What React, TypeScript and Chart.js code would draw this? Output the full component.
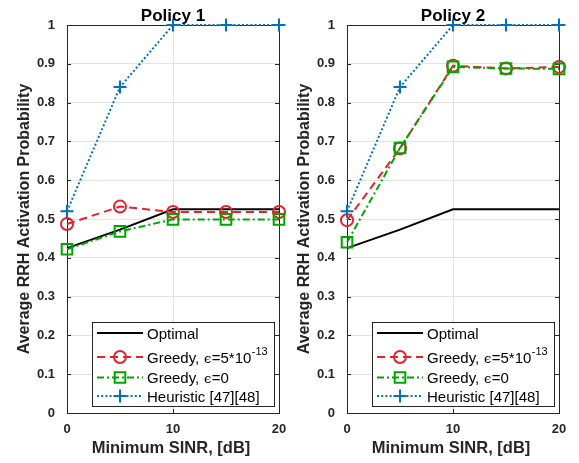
import React, { useEffect, useRef } from "react";
import { Chart, registerables } from "chart.js";

Chart.register(...registerables);

// Minimum SINR values on the x axis (dB)
const sinrDb = [0, 5, 10, 15, 20];

// Average RRH activation probability per scheme
const optimal = [0.425, 0.4725, 0.525, 0.525, 0.525];
const heuristic = [0.52, 0.84, 1, 1, 1];
const greedyEpsP1 = [0.487, 0.532, 0.518, 0.518, 0.518];
const greedyZeroP1 = [0.422, 0.468, 0.499, 0.499, 0.499];
const greedyEpsP2 = [0.497, 0.682, 0.895, 0.888, 0.892];
const greedyZeroP2 = [0.44, 0.683, 0.892, 0.888, 0.887];

const panelTitles = ["Policy 1", "Policy 2"];
const seriesNames = ["Optimal", "Greedy, ϵ=5*10^-13", "Greedy, ϵ=0", "Heuristic [47][48]"];
const xTicks = [0, 10, 20];
const yTicks = [0, 0.1, 0.2, 0.3, 0.4, 0.5, 0.6, 0.7, 0.8, 0.9, 1];
const xTitle = "Minimum SINR, [dB]";
const yTitle = "Average RRH Activation Probability";

const AXIS = "#262626";
const GRID = "#e3e3e3";
const FONT = '"Liberation Sans", Arial, Helvetica, sans-serif';

type Style = {
  color: string;
  dash: number[];
  marker: "none" | "circle" | "rect" | "cross";
  radius: number;
  order: number;
};

const styles: Style[] = [
  { color: "#000000", dash: [], marker: "none", radius: 0, order: 3 },
  { color: "#e8212b", dash: [8, 5], marker: "circle", radius: 6, order: 2 },
  { color: "#00a600", dash: [7, 3, 2, 3], marker: "rect", radius: 7.5, order: 1 },
  { color: "#0072bd", dash: [2, 2.2], marker: "cross", radius: 6.5, order: 0 },
];

const panelSeries = [
  [optimal, greedyEpsP1, greedyZeroP1, heuristic],
  [optimal, greedyEpsP2, greedyZeroP2, heuristic],
];

const CANVAS_W = 299;
const CANVAS_H = 463;

function drawMarker(ctx: CanvasRenderingContext2D, s: Style, x: number, y: number) {
  if (s.marker === "none") return;
  ctx.save();
  ctx.setLineDash([]);
  ctx.strokeStyle = s.color;
  ctx.lineWidth = 2;
  ctx.beginPath();
  if (s.marker === "circle") {
    ctx.arc(x, y, s.radius, 0, Math.PI * 2);
  } else if (s.marker === "rect") {
    const h = s.radius * Math.SQRT1_2;
    ctx.rect(x - h, y - h, 2 * h, 2 * h);
  } else {
    ctx.moveTo(x - s.radius, y);
    ctx.lineTo(x + s.radius, y);
    ctx.moveTo(x, y - s.radius);
    ctx.lineTo(x, y + s.radius);
  }
  ctx.stroke();
  ctx.restore();
}

// Draws a legend label; "ϵ" uses a serif face and "^..." becomes a superscript.
function drawRichText(ctx: CanvasRenderingContext2D, text: string, x: number, baseline: number) {
  const [main, sup] = text.split("^");
  let cx = x;
  const parts = main.split(/(ϵ)/);
  for (const p of parts) {
    if (!p) continue;
    if (p === "ϵ") {
      ctx.font = '13px "DejaVu Serif", serif';
      ctx.fillText(p, cx + 0.5, baseline);
      cx += ctx.measureText(p).width + 1;
    } else {
      ctx.font = `15px ${FONT}`;
      ctx.fillText(p, cx, baseline);
      cx += ctx.measureText(p).width;
    }
  }
  if (sup) {
    ctx.font = `11px ${FONT}`;
    ctx.fillText(sup, cx + 0.5, baseline - 8);
  }
}

function makeFramePlugin(title: string) {
  return {
    id: "matlabFrame",
    beforeDatasetsDraw(chart: any) {
      const { ctx, chartArea: a } = chart;
      const xs = chart.scales.x;
      const ys = chart.scales.y;
      ctx.save();
      ctx.strokeStyle = AXIS;
      ctx.lineWidth = 1;
      ctx.strokeRect(a.left + 0.5, a.top + 0.5, a.right - a.left, a.bottom - a.top);
      ctx.beginPath();
      const tl = 4;
      for (const v of xTicks) {
        const px = Math.round(xs.getPixelForValue(v)) + 0.5;
        ctx.moveTo(px, a.bottom);
        ctx.lineTo(px, a.bottom - tl);
        ctx.moveTo(px, a.top);
        ctx.lineTo(px, a.top + tl);
      }
      for (const v of yTicks) {
        const py = Math.round(ys.getPixelForValue(v)) + 0.5;
        ctx.moveTo(a.left, py);
        ctx.lineTo(a.left + tl, py);
        ctx.moveTo(a.right, py);
        ctx.lineTo(a.right - tl, py);
      }
      ctx.stroke();
      ctx.restore();
    },
    afterDraw(chart: any) {
      const { ctx, chartArea: a } = chart;
      const cx = (a.left + a.right) / 2;
      ctx.save();
      ctx.fillStyle = "#000";
      ctx.textAlign = "center";
      ctx.textBaseline = "alphabetic";
      ctx.font = `bold 17px ${FONT}`;
      ctx.fillText(title, cx, 21);

      ctx.fillStyle = AXIS;
      ctx.font = `bold 16.5px ${FONT}`;
      ctx.fillText(xTitle, cx - 2, 453);

      ctx.save();
      ctx.translate(29, (a.top + a.bottom) / 2);
      ctx.rotate(-Math.PI / 2);
      ctx.font = `bold 16px ${FONT}`;
      ctx.fillText(yTitle, 0, 0);
      ctx.restore();

      // legend box
      const bx = 92;
      const by = 322;
      const bw = 182;
      const bh = 84;
      ctx.fillStyle = "#fff";
      ctx.fillRect(bx, by, bw, bh);
      ctx.strokeStyle = AXIS;
      ctx.lineWidth = 1;
      ctx.strokeRect(bx + 0.5, by + 0.5, bw, bh);

      const rows = [333, 357, 377.5, 396];
      ctx.textAlign = "left";
      styles.forEach((s, i) => {
        const y = rows[i];
        ctx.save();
        ctx.strokeStyle = s.color;
        ctx.lineWidth = 2;
        ctx.setLineDash(s.dash);
        ctx.beginPath();
        ctx.moveTo(97, y);
        ctx.lineTo(143, y);
        ctx.stroke();
        ctx.restore();
        drawMarker(ctx, s, 120, y);
        ctx.fillStyle = "#000";
        drawRichText(ctx, seriesNames[i], 147, y + 5.5);
      });
      ctx.restore();
    },
  };
}

function makeConfig(panel: number): any {
  const datasets = panelSeries[panel].map((vals, i) => {
    const s = styles[i];
    return {
      label: seriesNames[i].replace("^", ""),
      data: sinrDb.map((x, k) => ({ x, y: vals[k] })),
      borderColor: s.color,
      borderWidth: 2,
      borderDash: s.dash,
      fill: false,
      tension: 0,
      clip: false,
      order: s.order,
      pointStyle: s.marker === "none" ? false : s.marker,
      pointRadius: s.radius,
      pointBorderWidth: 2,
      pointBorderColor: s.color,
      pointBackgroundColor: "rgba(0,0,0,0)",
    };
  });

  return {
    type: "line",
    data: { datasets },
    options: {
      animation: false,
      responsive: false,
      maintainAspectRatio: false,
      devicePixelRatio: 1,
      events: [],
      layout: { padding: { left: 0, right: 20, top: 25, bottom: 0 } },
      plugins: {
        legend: { display: false },
        tooltip: { enabled: false },
        title: { display: false },
      },
      scales: {
        x: {
          type: "linear",
          min: 0,
          max: 20,
          afterBuildTicks: (scale: any) => {
            scale.ticks = xTicks.map((value) => ({ value }));
          },
          afterFit: (scale: any) => {
            scale.height = 50;
          },
          grid: { color: GRID, lineWidth: 1, drawTicks: false },
          border: { display: false },
          ticks: {
            padding: 9,
            autoSkip: false,
            maxRotation: 0,
            color: AXIS,
            font: { family: FONT, size: 13, weight: "bold" },
          },
        },
        y: {
          type: "linear",
          min: 0,
          max: 1,
          afterBuildTicks: (scale: any) => {
            scale.ticks = yTicks.map((value) => ({ value }));
          },
          afterFit: (scale: any) => {
            scale.width = 67;
          },
          grid: { color: GRID, lineWidth: 1, drawTicks: false },
          border: { display: false },
          ticks: {
            padding: 12,
            color: AXIS,
            font: { family: FONT, size: 13, weight: "bold" },
            callback: (v: number) => String(Math.round(v * 10) / 10),
          },
        },
      },
    },
    plugins: [makeFramePlugin(panelTitles[panel])],
  };
}

function Panel({ index, left }: { index: number; left: number }) {
  const ref = useRef<HTMLCanvasElement | null>(null);
  useEffect(() => {
    if (!ref.current) return;
    const chart = new Chart(ref.current, makeConfig(index));
    return () => chart.destroy();
  }, [index]);
  return (
    <canvas
      ref={ref}
      width={CANVAS_W}
      height={CANVAS_H}
      style={{ position: "absolute", left, top: 0, width: CANVAS_W, height: CANVAS_H }}
    />
  );
}

export default function App() {
  return (
    <div
      style={{
        position: "fixed",
        left: 0,
        top: 0,
        width: 579,
        height: 463,
        background: "#fff",
        overflow: "hidden",
      }}
    >
      <Panel index={0} left={0} />
      <Panel index={1} left={280} />
    </div>
  );
}
